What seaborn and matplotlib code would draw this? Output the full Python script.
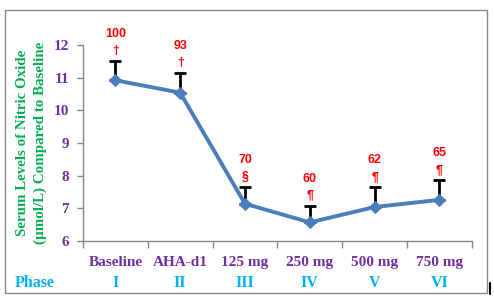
import matplotlib
matplotlib.use('Agg')
import matplotlib.pyplot as plt
import seaborn as sns
import pandas as pd
from matplotlib.patches import Rectangle
from matplotlib.lines import Line2D

categories = ['Baseline', 'AHA-d1', '125 mg', '250 mg', '500 mg', '750 mg']
phases = ['I', 'II', 'III', 'IV', 'V', 'VI']
no_levels = [10.92, 10.54, 7.14, 6.57, 7.04, 7.26]
sd_upper = [0.58, 0.59, 0.50, 0.51, 0.60, 0.60]
pct_of_baseline = ['100', '93', '70', '60', '62', '65']
signif = ['\u2020', '\u2020', '\u00a7', '\u00b6', '\u00b6', '\u00b6']

purple = '#7030A0'
green = '#00B050'
cyan = '#00B0F0'
red = '#FF0000'
line_col = '#4A7EBB'

sns.set_theme(style='white')
plt.rcParams['font.family'] = ['Liberation Serif', 'DejaVu Serif']

df = pd.DataFrame({'pos': range(len(categories)), 'value': no_levels})

fig = plt.figure(figsize=(4.94, 3.02), dpi=100)
ax = fig.add_axes([0.168, 0.202, 0.787, 0.649])

ax.errorbar(df['pos'], df['value'], yerr=[[0] * len(sd_upper), sd_upper],
            fmt='none', ecolor='black', elinewidth=2, capsize=4, capthick=2, zorder=2)
sns.lineplot(data=df, x='pos', y='value', ax=ax, color=line_col, linewidth=2.8,
             marker='D', markersize=6, markeredgecolor=line_col, zorder=3)

for i in range(len(categories)):
    top = no_levels[i] + sd_upper[i]
    ax.annotate(signif[i], (i, top), xytext=(0, 7.5), textcoords='offset points',
                ha='center', va='center', color=red, fontsize=9, fontweight='bold',
                family=['Liberation Sans', 'DejaVu Sans'])
    ax.annotate(pct_of_baseline[i], (i, top), xytext=(0, 19.5), textcoords='offset points',
                ha='center', va='center', color=red, fontsize=9, fontweight='bold',
                family=['Liberation Sans', 'DejaVu Sans'], annotation_clip=False)

ax.set_xlim(-0.5, len(categories) - 0.5)
ax.set_ylim(6, 12)
ax.set_yticks(range(6, 13))
ax.set_yticklabels([str(v) for v in range(6, 13)], color=purple, fontsize=11, fontweight='bold')
ax.set_xticks(range(len(categories)))
ax.set_xticklabels(categories, color=purple, fontsize=11, fontweight='bold')
ax.set_xticks([x - 0.5 for x in range(len(categories) + 1)], minor=True)
ax.tick_params(axis='x', which='major', length=0, pad=11)
ax.tick_params(axis='x', which='minor', length=5, width=1, color='#888888', direction='out', bottom=True)
ax.tick_params(axis='y', length=4, width=1, color='#888888', direction='out', left=True, pad=6)

for s in ['top', 'right']:
    ax.spines[s].set_visible(False)
for s in ['left', 'bottom']:
    ax.spines[s].set_color('#888888')
    ax.spines[s].set_linewidth(1)

ax.set_xlabel('')
ax.set_ylabel('Serum Levels of Nitric Oxide\n(\u00b5mol/L) Compared to Baseline',
              color=green, fontsize=10.8, fontweight='bold', labelpad=5, linespacing=1.4)

for i, ph in enumerate(phases):
    ax.text(i, -0.215, ph, transform=ax.get_xaxis_transform(), ha='center', va='center',
            color=cyan, fontsize=11.5, fontweight='bold')
fig.text(35 / 494, 1 - 283 / 302, 'Phase', ha='center', va='center',
         color=cyan, fontsize=11.5, fontweight='bold')

fig.add_artist(Rectangle((0.0101, 0.030), 0.976, 0.937, transform=fig.transFigure,
                         fill=False, edgecolor='#888888', linewidth=1))
fig.add_artist(Line2D([490 / 494, 490 / 494], [1 - 294 / 302, 1 - 283 / 302],
                      transform=fig.transFigure, color='black', linewidth=1.5))

fig.savefig('out.png', dpi=100)
